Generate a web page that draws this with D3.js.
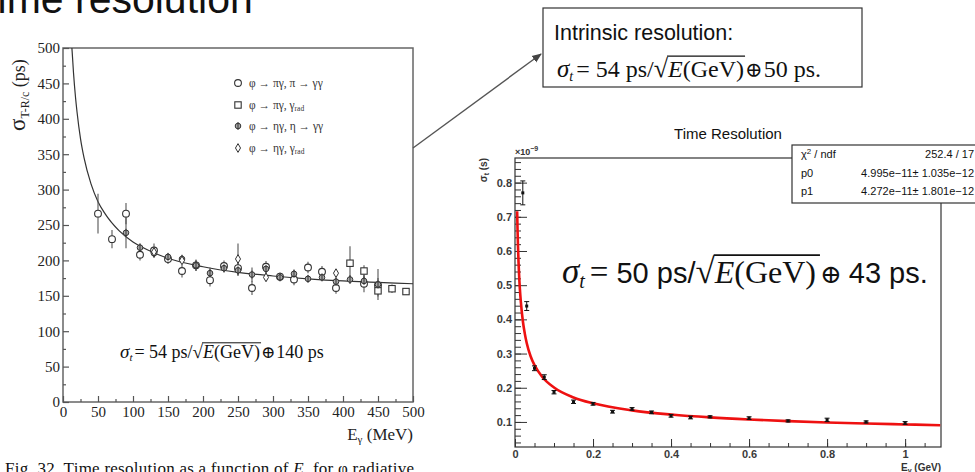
<!DOCTYPE html>
<html>
<head>
<meta charset="utf-8">
<script src="https://cdn.jsdelivr.net/npm/d3@7"></script>
<style>
  body { margin: 0; background: #fff; }
  svg { display: block; }
</style>
</head>
<body>
<div id="chart"></div>
<script>
// ---------- left plot data (E in MeV, sigma in ps, error in ps) ----------
const piGG = [[50,266,28],[70,230,13],[90,266,15],[110,208,8],[130,214,10],[150,202,7],[170,185,9],
  [190,193,8],[210,172,9],[230,192,8],[250,189,10],[270,161,10],[290,191,8],[310,177,6],[330,173,8],
  [350,190,8],[370,184,8],[390,161,8],[430,167,12],[450,165,10]]
const piRad = [[410,196,24],[430,185,8],[450,157,8],[470,160,6],[490,156,5]]
const etaGG = [[90,239,22],[110,218,6],[130,210,6],[150,205,5],[170,202,6],[190,193,8],[210,182,8],
  [230,189,6],[250,186,8],[270,180,10],[290,188,8],[310,176,5],[330,181,6],[350,174,5],[370,176,5],
  [390,170,6],[410,173,6],[430,171,8],[450,166,22]]
const etaRad = [[130,212,5],[170,200,5],[250,202,22],[290,176,5],[390,182,5]]
const legendLabels = ["φ → πγ, π → γγ", "φ → πγ, γ_rad", "φ → ηγ, η → γγ", "φ → ηγ, γ_rad"]
const fitLeftE = [12.7,13,15,18,20,25,30,40,50,60,80,100,125,150,200,250,300,350,400,450,500]
const fitLeftS = [500,496,465,429,410,372,345,308,283,266,242,226,213,203,191,183,178,174,171,169,167]
const leftXTicks = [0,50,100,150,200,250,300,350,400,450,500]
const leftYTicks = [0,50,100,150,200,250,300,350,400,450,500]

// ---------- right plot data (E in GeV, sigma in ns) ----------
const ptsE =   [0.02,0.03,0.05,0.075,0.1,0.15,0.2,0.25,0.3,0.35,0.4,0.45,0.5,0.6,0.7,0.8,0.9,1.0]
const ptsS =   [0.77,0.439,0.257,0.231,0.187,0.159,0.153,0.130,0.138,0.128,0.118,0.113,0.115,0.111,0.103,0.106,0.100,0.097]
const ptsErr = [0.035,0.013,0.007,0.007,0.005,0.005,0.004,0.004,0.004,0.004,0.004,0.004,0.003,0.004,0.003,0.005,0.003,0.004]
const fitRightE = [0.0055,0.0065,0.0075,0.009,0.01,0.0125,0.015,0.02,0.025,0.03,0.04,0.05,0.07,0.1,0.15,0.2,0.3,0.4,0.5,0.6,0.7,0.8,0.9,1.0,1.09]
const fitRightS = [0.716,0.662,0.620,0.569,0.542,0.489,0.451,0.396,0.359,0.331,0.292,0.266,0.2315,0.2007,0.1717,0.1544,0.1339,0.1217,0.1133,0.1072,0.1024,0.0985,0.0954,0.0927,0.0905]
const rightXTicks = [0,0.2,0.4,0.6,0.8,1]
const rightYTicks = [0.1,0.2,0.3,0.4,0.5,0.6,0.7,0.8]
const statsRows = [["χ²/ndf","252.4 / 17"],["p0","4.995e−11± 1.035e−12"],["p1","4.272e−11± 1.801e−12"]]

const SERIF = "'Liberation Serif', 'DejaVu Serif', serif"
const SANS = "'Liberation Sans', Arial, sans-serif"

const svg = d3.select("#chart").append("svg").attr("width", 975).attr("height", 472)

// lay out a formula piece by piece, returns end x
function mathText(g, x, y, parts){
    let cx = x
    let root = null
    parts.forEach(p => {
        let t = g.append("text")
            .attr("x", cx).attr("y", y + (p.dy || 0))
            .attr("font-family", p.f || SERIF)
            .attr("font-size", p.s)
            .attr("font-style", p.i ? "italic" : "normal")
            .attr("fill", "#111")
            .text(p.t)
        let w = t.node().getComputedTextLength()
        if(p.root) root = { x: cx + w - 1, s: p.s }
        cx += w + (p.gap || 0)
        if(p.rootEnd && root){
            g.append("line")
                .attr("x1", root.x).attr("x2", cx)
                .attr("y1", y - root.s * 0.8).attr("y2", y - root.s * 0.8)
                .attr("stroke", "#111").attr("stroke-width", Math.max(1, root.s / 20))
        }
    })
    return cx
}

// ---------- slide title (cut at top) ----------
svg.append("text").attr("x", -26).attr("y", 13)
    .attr("font-family", SANS).attr("font-size", 41).attr("fill", "#111")
    .text("Time resolution")

// ---------- left plot ----------
let xL = d3.scaleLinear().domain([0,500]).range([63,413])
let yL = d3.scaleLinear().domain([0,500]).range([402,48])
let left = svg.append("g")

left.append("rect").attr("x", 63).attr("y", 48).attr("width", 350).attr("height", 354)
    .attr("fill", "none").attr("stroke", "#666").attr("stroke-width", 1.5)

let axL = left.append("g").attr("transform", "translate(0,402)")
    .call(d3.axisBottom(xL).tickValues(leftXTicks).tickSize(-6).tickPadding(4))
axL.select(".domain").remove()
let axLm = left.append("g").attr("transform", "translate(0,402)")
    .call(d3.axisBottom(xL).tickValues(d3.range(25,500,50)).tickSize(-3).tickFormat(""))
axLm.select(".domain").remove()
let ayL = left.append("g").attr("transform", "translate(63,0)")
    .call(d3.axisLeft(yL).tickValues(leftYTicks).tickSize(-6).tickPadding(3))
ayL.select(".domain").remove()
let ayLm = left.append("g").attr("transform", "translate(63,0)")
    .call(d3.axisLeft(yL).tickValues(d3.range(25,500,50)).tickSize(-3).tickFormat(""))
ayLm.select(".domain").remove()
left.selectAll(".tick line").attr("stroke", "#555").attr("stroke-width", 1.2)
left.selectAll(".tick text").attr("font-family", SERIF).attr("font-size", 15).attr("fill", "#222")

// axis titles
let ylab = left.append("text").attr("transform", "translate(25,131) rotate(-90)")
    .attr("font-family", SERIF).attr("fill", "#222")
ylab.append("tspan").attr("font-size", 23).text("σ")
ylab.append("tspan").attr("font-size", 12).attr("dy", 4).text("T-R/c")
ylab.append("tspan").attr("font-size", 18).attr("dy", -4).text(" (ps)")

let xlab = left.append("text").attr("x", 413).attr("y", 440).attr("text-anchor", "end")
    .attr("font-family", SERIF).attr("font-size", 17).attr("fill", "#222")
xlab.append("tspan").text("E")
xlab.append("tspan").attr("font-size", 11).attr("dy", 3).text("γ")
xlab.append("tspan").attr("dy", -3).text(" (MeV)")

// fit curve
let lineL = d3.line().x(d => xL(d[0])).y(d => yL(d[1])).curve(d3.curveMonotoneX)
left.append("path").datum(fitLeftE.map((e,i) => [e, fitLeftS[i]]))
    .attr("d", lineL).attr("fill", "none").attr("stroke", "#333").attr("stroke-width", 1.2)

// markers
function errBars(g, data){
    g.selectAll(null).data(data).enter().append("line")
        .attr("x1", d => xL(d[0])).attr("x2", d => xL(d[0]))
        .attr("y1", d => yL(d[1] - d[2])).attr("y2", d => yL(d[1] + d[2]))
        .attr("stroke", "#555").attr("stroke-width", 1.1)
}
function drawMarker(g, kind, x, y){
    if(kind === 0){
        g.append("circle").attr("cx", x).attr("cy", y).attr("r", 3.4)
            .attr("fill", "#fff").attr("stroke", "#333").attr("stroke-width", 1.1)
    } else if(kind === 1){
        g.append("rect").attr("x", x - 3.2).attr("y", y - 3.2).attr("width", 6.4).attr("height", 6.4)
            .attr("fill", "#fff").attr("stroke", "#333").attr("stroke-width", 1.1)
    } else if(kind === 2){
        g.append("circle").attr("cx", x).attr("cy", y).attr("r", 2.8)
            .attr("fill", "#aaa").attr("stroke", "#333").attr("stroke-width", 1)
        g.append("line").attr("x1", x).attr("x2", x).attr("y1", y - 4).attr("y2", y + 4)
            .attr("stroke", "#333").attr("stroke-width", 1)
    } else {
        g.append("path").attr("transform", "translate(" + [x, y] + ")")
            .attr("d", d3.symbol(d3.symbolDiamond, 22)())
            .attr("fill", "#fff").attr("stroke", "#333").attr("stroke-width", 1)
    }
}
let allSeries = [piGG, piRad, etaGG, etaRad]
let pts = left.append("g")
allSeries.forEach(s => errBars(pts, s))
allSeries.forEach((s, k) => s.forEach(d => drawMarker(pts, k, xL(d[0]), yL(d[1]))))

// legend
let legY = [83, 105, 126, 148]
legendLabels.forEach((lab, i) => {
    drawMarker(left, i, 238, legY[i])
    let t = left.append("text").attr("x", 249).attr("y", legY[i] + 4)
        .attr("font-family", SERIF).attr("font-size", 11.5).attr("fill", "#333")
    let parts = lab.split("_")
    t.append("tspan").text(parts[0])
    if(parts[1]) t.append("tspan").attr("font-size", 7.5).attr("dy", 2).text(parts[1])
})

// formula in left plot
mathText(left, 120, 358, [
    {t: "σ", s: 19, i: true}, {t: "t", s: 11, i: true, dy: 3, gap: 2},
    {t: " = 54 ps/", s: 18},
    {t: "√", s: 19, root: true},
    {t: "E", s: 18, i: true}, {t: "(GeV)", s: 18, rootEnd: true, gap: 1},
    {t: "⊕", s: 17, gap: 1}, {t: "140 ps", s: 18}
])

// caption
let cap = svg.append("text").attr("x", 5).attr("y", 474)
    .attr("font-family", SERIF).attr("font-size", 17).attr("letter-spacing", 0.25).attr("fill", "#111")
cap.append("tspan").text("Fig. 32. Time resolution as a function of ")
cap.append("tspan").attr("font-style", "italic").text("E")
cap.append("tspan").attr("font-size", 11).attr("dy", 3).attr("font-style", "italic").text("γ")
cap.append("tspan").attr("dy", -3).text(" for φ radiative")

// ---------- arrow + intrinsic box ----------
svg.append("defs").append("marker").attr("id", "arr")
    .attr("viewBox", "0 0 10 10").attr("refX", 9).attr("refY", 5)
    .attr("markerWidth", 7).attr("markerHeight", 7).attr("orient", "auto")
    .append("path").attr("d", "M0,1 L10,5 L0,9 z").attr("fill", "#444")
svg.append("line").attr("x1", 413).attr("y1", 148).attr("x2", 541).attr("y2", 54)
    .attr("stroke", "#555").attr("stroke-width", 1.4).attr("marker-end", "url(#arr)")

svg.append("rect").attr("x", 543).attr("y", 8).attr("width", 319).attr("height", 79)
    .attr("fill", "#fff").attr("stroke", "#333").attr("stroke-width", 1.2)
svg.append("text").attr("x", 554).attr("y", 40)
    .attr("font-family", SANS).attr("font-size", 21.5).attr("fill", "#111")
    .text("Intrinsic resolution:")
mathText(svg, 557, 77, [
    {t: "σ", s: 25, i: true}, {t: "t", s: 14, i: true, dy: 4, gap: 3},
    {t: " = 54  ps/", s: 24},
    {t: "√", s: 26, root: true},
    {t: "E", s: 24, i: true}, {t: "(GeV)", s: 24, rootEnd: true, gap: 1},
    {t: "⊕", s: 21, gap: 1}, {t: "50 ps.", s: 24}
])

// ---------- right plot ----------
let xR = d3.scaleLinear().domain([0,1.092]).range([515,941])
let yR = d3.scaleLinear().domain([0.0267,0.872]).range([447,158])
let right = svg.append("g")

right.append("text").attr("x", 728).attr("y", 139).attr("text-anchor", "middle")
    .attr("font-family", SANS).attr("font-size", 15).attr("fill", "#111")
    .text("Time Resolution")

right.append("rect").attr("x", 515).attr("y", 158).attr("width", 426).attr("height", 289)
    .attr("fill", "none").attr("stroke", "#333").attr("stroke-width", 1.2)

let axR = right.append("g").attr("transform", "translate(0,447)")
    .call(d3.axisBottom(xR).tickValues(rightXTicks).tickSize(-8).tickPadding(3)
        .tickFormat(d => d === 0 ? "0" : d === 1 ? "1" : d.toFixed(1)))
axR.select(".domain").remove()
let axRm = right.append("g").attr("transform", "translate(0,447)")
    .call(d3.axisBottom(xR).tickValues(d3.range(0.05,1.09,0.05)).tickSize(-4).tickFormat(""))
axRm.select(".domain").remove()
let ayR = right.append("g").attr("transform", "translate(515,0)")
    .call(d3.axisLeft(yR).tickValues(rightYTicks).tickSize(-12).tickPadding(3)
        .tickFormat(d3.format(".1f")))
ayR.select(".domain").remove()
let ayRm = right.append("g").attr("transform", "translate(515,0)")
    .call(d3.axisLeft(yR).tickValues(d3.range(0.04,0.871,0.02)).tickSize(-6).tickFormat(""))
ayRm.select(".domain").remove()
right.selectAll(".tick line").attr("stroke", "#333").attr("stroke-width", 1)
right.selectAll(".tick text").attr("font-family", SANS).attr("font-size", 11)
    .attr("font-weight", "bold").attr("fill", "#3a3a3a")

let ylabR = right.append("text").attr("transform", "translate(487,158) rotate(-90)")
    .attr("text-anchor", "end").attr("font-family", SANS).attr("font-size", 10)
    .attr("font-weight", "bold").attr("fill", "#333")
ylabR.append("tspan").text("σ")
ylabR.append("tspan").attr("font-size", 7).attr("dy", 2).text("t")
ylabR.append("tspan").attr("dy", -2).text(" (s)")
let expo = right.append("text").attr("x", 515).attr("y", 155)
    .attr("font-family", SANS).attr("font-size", 9).attr("font-weight", "bold").attr("fill", "#333")
expo.append("tspan").text("×10")
expo.append("tspan").attr("font-size", 7).attr("dy", -4).text("−9")

let xlabR = right.append("text").attr("x", 941).attr("y", 471).attr("text-anchor", "end")
    .attr("font-family", SANS).attr("font-size", 10).attr("font-weight", "bold").attr("fill", "#333")
xlabR.append("tspan").text("E")
xlabR.append("tspan").attr("font-size", 7).attr("dy", 2).text("γ")
xlabR.append("tspan").attr("dy", -2).text(" (GeV)")

// fit curve
let lineR = d3.line().x(d => xR(d[0])).y(d => yR(d[1])).curve(d3.curveMonotoneX)
right.append("path").datum(fitRightE.map((e,i) => [e, fitRightS[i]]))
    .attr("d", lineR).attr("fill", "none").attr("stroke", "#ee1111").attr("stroke-width", 2.6)

// data points with error bars
let rp = right.append("g")
ptsE.forEach((e, i) => {
    let x = xR(e), y1 = yR(ptsS[i] - ptsErr[i]), y2 = yR(ptsS[i] + ptsErr[i])
    rp.append("line").attr("x1", x).attr("x2", x).attr("y1", y1).attr("y2", y2)
        .attr("stroke", "#111").attr("stroke-width", 1)
    rp.append("line").attr("x1", x - 2.5).attr("x2", x + 2.5).attr("y1", y1).attr("y2", y1)
        .attr("stroke", "#111").attr("stroke-width", 1)
    rp.append("line").attr("x1", x - 2.5).attr("x2", x + 2.5).attr("y1", y2).attr("y2", y2)
        .attr("stroke", "#111").attr("stroke-width", 1)
    rp.append("rect").attr("x", x - 1.5).attr("y", yR(ptsS[i]) - 1.5).attr("width", 3).attr("height", 3)
        .attr("fill", "#111")
})

// big formula
mathText(right, 562, 283, [
    {t: "σ", s: 35, f: SERIF, i: true}, {t: "t", s: 20, i: true, dy: 5, gap: 5},
    {t: "= ", s: 33, gap: 8},
    {t: "50 ps/", s: 29, f: SANS},
    {t: "√", s: 35, root: true},
    {t: "E", s: 32, i: true}, {t: "(GeV)", s: 32, rootEnd: true, gap: 4},
    {t: "⊕", s: 26, gap: 7}, {t: "43 ps.", s: 29, f: SANS}
])

// stats box
right.append("rect").attr("x", 792).attr("y", 145).attr("width", 200).attr("height", 58)
    .attr("fill", "#fff").attr("stroke", "#333").attr("stroke-width", 1.2)
let rowY = [158, 177, 195]
statsRows.forEach((r, i) => {
    let t = right.append("text").attr("x", 801).attr("y", rowY[i])
        .attr("font-family", SANS).attr("font-size", 11).attr("fill", "#111")
    if(i === 0){
        t.append("tspan").text("χ")
        t.append("tspan").attr("font-size", 8).attr("dy", -4).text("2")
        t.append("tspan").attr("dy", 4).text(" / ndf")
    } else {
        t.text(r[0])
    }
    right.append("text").attr("x", 974).attr("y", rowY[i]).attr("text-anchor", "end")
        .attr("font-family", SANS).attr("font-size", 11).attr("fill", "#111")
        .text(r[1])
})
</script>
</body>
</html>
